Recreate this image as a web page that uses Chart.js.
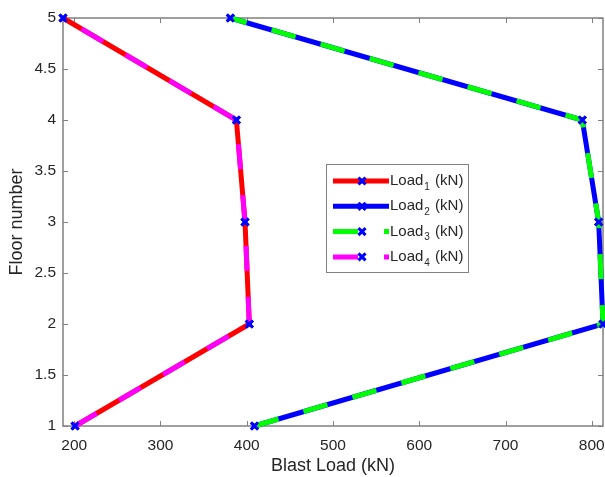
<!DOCTYPE html>
<html>
<head>
<meta charset="utf-8">
<script src="https://cdn.jsdelivr.net/npm/chart.js@4.4.0/dist/chart.umd.min.js"></script>
<style>
  html, body { margin: 0; padding: 0; background: #fff; }
  #wrap { width: 605px; height: 477px; position: relative; }
</style>
</head>
<body>
<div id="wrap"><canvas id="chart"></canvas></div>
<script>
// --- data ---
const floors = [1, 2, 3, 4, 5];
const load1 = [201, 403, 398, 388, 187];
const load2 = [409, 813, 808, 789, 381];
const load3 = [409, 813, 808, 789, 381];
const load4 = [201, 403, 398, 388, 187];
const loadSubs = ['1', '2', '3', '4'];
const xTicks = [200, 300, 400, 500, 600, 700, 800];
const yTicks = [1, 1.5, 2, 2.5, 3, 3.5, 4, 4.5, 5];

const axisGray = '#808080';
const textGray = '#262626';
const markerBlue = '#0000ff';
const fontFamily = '"Liberation Sans", Arial, sans-serif';

function toPoints(xs) {
    return xs.map((x, i) => ({ x: x, y: floors[i] }));
}

// chart.js draws low "order" on top, so later series get lower order (matlab plots in sequence)
function makeSet(i, xs, color, dash) {
    return {
        label: 'Load' + loadSubs[i] + ' (kN)',
        data: toPoints(xs),
        order: 4 - i,
        borderColor: color,
        backgroundColor: color,
        borderWidth: 5,
        borderDash: dash,
        tension: 0,
        fill: false,
        pointStyle: 'crossRot',
        pointRadius: 5,
        pointBorderWidth: 3,
        pointBorderColor: markerBlue,
        pointBackgroundColor: markerBlue,
        clip: false
    };
}

const datasets = [
    makeSet(0, load1, '#ff0000', []),
    makeSet(1, load2, '#0000ff', []),
    makeSet(2, load3, '#00ff00', [25, 26]),
    makeSet(3, load4, '#ff00ff', [25, 26])
];

// box round the axes with inward ticks, matlab style
const axesBox = {
    id: 'axesBox',
    beforeDatasetsDraw(chart) {
        const { ctx, chartArea: a, scales } = chart;
        ctx.save();
        ctx.strokeStyle = axisGray;
        ctx.lineWidth = 1.5;
        ctx.strokeRect(a.left, a.top, a.right - a.left, a.bottom - a.top);
        ctx.lineWidth = 1;
        ctx.beginPath();
        xTicks.forEach(v => {
            const px = Math.round(scales.x.getPixelForValue(v)) + 0.5;
            ctx.moveTo(px, a.bottom); ctx.lineTo(px, a.bottom - 5);
            ctx.moveTo(px, a.top); ctx.lineTo(px, a.top + 5);
        });
        yTicks.forEach(v => {
            const py = Math.round(scales.y.getPixelForValue(v)) + 0.5;
            ctx.moveTo(a.left, py); ctx.lineTo(a.left + 5, py);
            ctx.moveTo(a.right, py); ctx.lineTo(a.right - 5, py);
        });
        ctx.stroke();
        ctx.restore();
    }
};

// legend box inside the axes
const boxLegend = {
    id: 'boxLegend',
    afterDatasetsDraw(chart) {
        const { ctx, chartArea: a } = chart;
        const left = a.left + 263, top = a.top + 146, w = 142, h = 108;
        ctx.save();
        ctx.fillStyle = '#fff';
        ctx.fillRect(left, top, w, h);
        ctx.strokeStyle = axisGray;
        ctx.lineWidth = 1;
        ctx.strokeRect(left + 0.5, top + 0.5, w, h);
        chart.data.datasets.forEach((ds, i) => {
            const y = top + 17 + i * 25.3;
            const x0 = left + 7;
            ctx.strokeStyle = ds.borderColor;
            ctx.lineWidth = ds.borderWidth;
            ctx.setLineDash(ds.borderDash);
            ctx.beginPath();
            ctx.moveTo(x0, y);
            ctx.lineTo(x0 + 56, y);
            ctx.stroke();
            ctx.setLineDash([]);
            ctx.strokeStyle = markerBlue;
            ctx.fillStyle = markerBlue;
            ctx.lineWidth = 3;
            Chart.helpers.drawPoint(ctx, { pointStyle: 'crossRot', radius: 5, borderWidth: 3, rotation: 0 }, x0 + 29, y);
            // text: Load_n (kN)
            ctx.fillStyle = textGray;
            ctx.textBaseline = 'middle';
            ctx.textAlign = 'left';
            ctx.font = '15px ' + fontFamily;
            const tx = x0 + 57;
            ctx.fillText('Load', tx, y);
            const wLoad = ctx.measureText('Load').width;
            ctx.font = '10px ' + fontFamily;
            ctx.fillText(loadSubs[i], tx + wLoad + 1, y + 6);
            const wSub = ctx.measureText(loadSubs[i]).width;
            ctx.font = '15px ' + fontFamily;
            ctx.fillText(' (kN)', tx + wLoad + wSub + 2, y);
        });
        ctx.restore();
    }
};

const ctx = document.getElementById('chart').getContext('2d');
new Chart(ctx, {
    type: 'line',
    data: { datasets: datasets },
    options: {
        responsive: true,
        maintainAspectRatio: false,
        animation: false,
        layout: { autoPadding: false, padding: { top: 18, right: 2, left: 0, bottom: 0 } },
        plugins: {
            legend: { display: false },
            tooltip: { enabled: false }
        },
        scales: {
            x: {
                type: 'linear',
                min: 187,
                max: 813,
                afterBuildTicks: (s) => { s.ticks = xTicks.map(v => ({ value: v })); },
                afterFit: (s) => { s.height = 51; s.paddingLeft = 0; s.paddingRight = 0; },
                grid: { display: false, drawTicks: false },
                border: { display: false },
                ticks: {
                    padding: 10,
                    color: textGray,
                    font: { family: fontFamily, size: 15.5 },
                    maxRotation: 0,
                    callback: (v) => String(v)
                },
                title: {
                    display: true,
                    text: 'Blast Load (kN)',
                    color: textGray,
                    font: { family: fontFamily, size: 18 },
                    padding: { top: 1, bottom: 0 }
                }
            },
            y: {
                type: 'linear',
                min: 1,
                max: 5,
                afterBuildTicks: (s) => { s.ticks = yTicks.map(v => ({ value: v })); },
                afterFit: (s) => { s.width = 63; s.paddingTop = 0; s.paddingBottom = 0; },
                grid: { display: false, drawTicks: false },
                border: { display: false },
                ticks: {
                    padding: 7,
                    color: textGray,
                    font: { family: fontFamily, size: 15.5 },
                    callback: (v) => String(v)
                },
                title: {
                    display: true,
                    text: 'Floor number',
                    color: textGray,
                    font: { family: fontFamily, size: 18 },
                    padding: { top: 6, bottom: 0 }
                }
            }
        }
    },
    plugins: [axesBox, boxLegend]
});
</script>
</body>
</html>
